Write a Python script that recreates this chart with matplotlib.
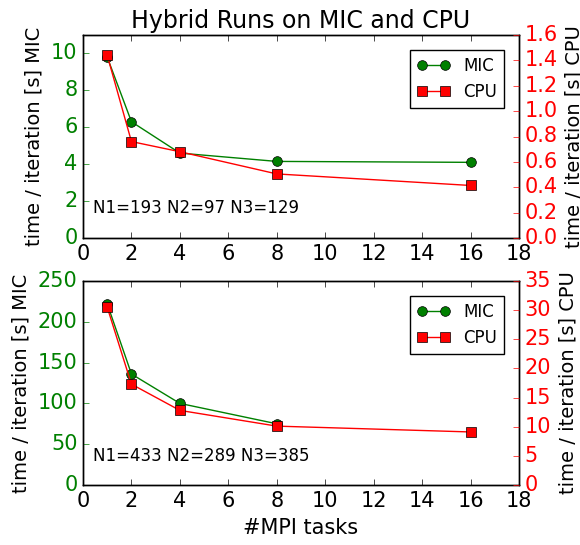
import matplotlib
matplotlib.use("Agg")
from matplotlib import pyplot as plt

plt.style.use('classic')

tasks = [1, 2, 4, 8, 16]

# small grid N1=193 N2=97 N3=129
mic_small = [9.8, 6.3, 4.6, 4.15, 4.1]
cpu_small = [1.44, 0.76, 0.68, 0.505, 0.414]

# large grid N1=433 N2=289 N3=385
mic_large_tasks = [1, 2, 4, 8]
mic_large = [222, 136, 100, 75]
cpu_large = [30.5, 17.3, 12.8, 10.1, 9.1]

fig = plt.figure(figsize=(5.8, 5.45), dpi=100, facecolor='white')

W, H = 580., 545.
ax1 = fig.add_axes([83/W, 1-238/H, 436/W, 203/H])
ax2 = fig.add_axes([83/W, 1-485/H, 436/W, 204/H])

def panel(ax, xm, ym, yc, mic_lim, cpu_lim, txt, ty):
    axr = ax.twinx()
    l1, = ax.plot(xm, ym, 'o-', c='g', mec='k', mew=0.5, ms=7, lw=1)
    l2, = axr.plot(tasks, yc, 's-', c='r', mec='k', mew=0.5, ms=7, lw=1)
    ax.set_xlim(0, 18)
    ax.set_ylim(mic_lim)
    axr.set_ylim(cpu_lim)
    ax.set_ylabel('time / iteration [s] MIC', fontsize=14)
    axr.set_ylabel('time / iteration [s] CPU', fontsize=14)
    ax.tick_params(axis='x', labelsize=15)
    ax.tick_params(axis='y', colors='g', labelsize=15)
    axr.tick_params(axis='y', colors='r', labelsize=15)
    ax.text(0.4, ty, txt, fontsize=12, va='center')
    ax.set_facecolor('white')
    axr.legend([l1, l2], ['MIC', 'CPU'], loc='upper right', fontsize=12,
               numpoints=2, borderaxespad=0.9)
    return axr

panel(ax1, tasks, mic_small, cpu_small, (0, 11), (0, 1.6),
      'N1=193 N2=97 N3=129', 1.6)
panel(ax2, mic_large_tasks, mic_large, cpu_large, (0, 250), (0, 35),
      'N1=433 N2=289 N3=385', 36)

ax1.set_title('Hybrid Runs on MIC and CPU', fontsize=17)
ax2.set_xlabel('#MPI tasks', fontsize=15)

plt.savefig('out.png', dpi=100, facecolor='white')
plt.close()
